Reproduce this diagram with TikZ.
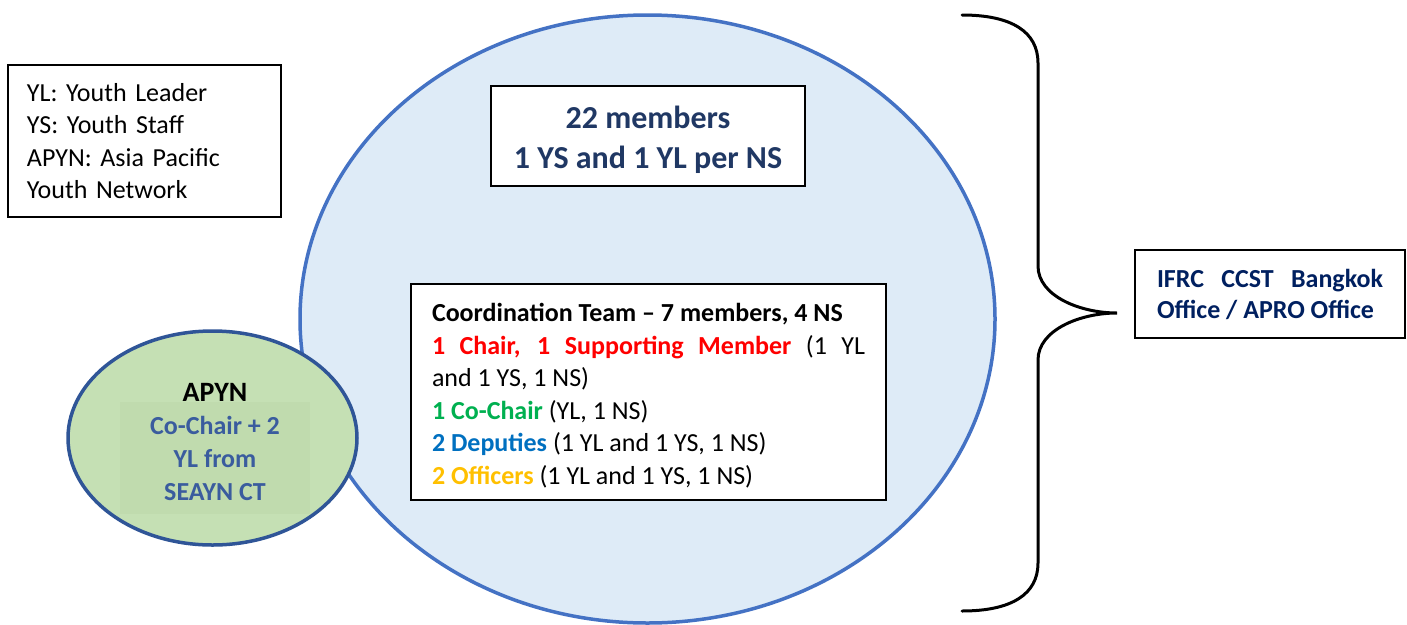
\documentclass[tikz,border=0pt]{standalone}
\usepackage{fontspec}
\setmainfont{Carlito}
\usetikzlibrary{shapes.geometric}
\definecolor{ringfill}{HTML}{DEEBF7}
\definecolor{ringline}{HTML}{4472C4}
\definecolor{apynfill}{HTML}{C5E0B4}
\definecolor{apynshade}{HTML}{C0DBAE}
\definecolor{apynline}{HTML}{2F5597}
\definecolor{apyntext}{HTML}{3A5C9E}
\definecolor{navy}{HTML}{203864}
\definecolor{officenavy}{HTML}{002060}
\definecolor{chairred}{HTML}{FF0000}
\definecolor{cochair}{HTML}{00B050}
\definecolor{deputy}{HTML}{0070C0}
\definecolor{officer}{HTML}{FFC000}

\begin{document}
\begin{tikzpicture}[x=1pt,y=-1pt,
            every node/.style={font=\fontsize{26}{32.5}\selectfont},
            box/.style={draw,line width=1.8pt,fill=white,inner sep=0pt},
            brace/.style={draw,line width=3pt,line cap=round}
            ]
            \useasboundingbox (0,0) rectangle (1407,624);
            % the network
            \node[ellipse,draw=ringline,fill=ringfill,line width=3.5pt,
                minimum width=695pt,minimum height=608pt,inner sep=0pt] (ring) at (647.5,319) {};
            \node[box,minimum width=314pt,minimum height=100pt,align=center,text=navy,
                font=\fontsize{32}{40}\selectfont\bfseries] (members) at (648,136)
                {\rule{0pt}{30pt}22 members\\1 YS and 1 YL per NS};
            \node[box,text width=433pt,inner xsep=21pt,minimum height=216pt,align=justify] (team) at (648.5,392)
                {\rule{0pt}{26pt}\textbf{Coordination Team -- 7 members, 4 NS}\\
                \textcolor{chairred}{\textbf{1 Chair, 1 Supporting Member}} (1 YL\linebreak and 1 YS, 1 NS)\\
                \textcolor{cochair}{\textbf{1 Co-Chair}} (YL, 1 NS)\\
                \textcolor{deputy}{\textbf{2 Deputies}} (1 YL and 1 YS, 1 NS)\\
                \textcolor{officer}{\textbf{2 Officers}} (1 YL and 1 YS, 1 NS)};
            % APYN
            \node[ellipse,draw=apynline,fill=apynfill,line width=3.5pt,
                minimum width=289pt,minimum height=214pt,inner sep=0pt] (apyn) at (212.5,438) {};
            \fill[apynshade] (120,402) rectangle (310,514);
            \node[align=center,font=\fontsize{26}{33}\selectfont\bfseries] (apyntxt) at (215,442)
                {{\fontsize{28}{33}\selectfont APYN}\\\textcolor{apyntext}{Co-Chair + 2}\\\textcolor{apyntext}{YL from}\\\textcolor{apyntext}{SEAYN CT}};
            % legend
            \node[box,text width=235pt,inner xsep=19pt,minimum height=152pt,align=left] (legend) at (144.5,141)
                {YL: Youth Leader\\YS: Youth Staff\\APYN: Asia Pacific\\Youth Network};
            % office
            \node[box,text width=226pt,inner xsep=22pt,minimum height=88pt,align=justify,text=officenavy,
                font=\fontsize{26}{31}\selectfont\bfseries] (office) at (1270,294)
                {IFRC CCST Bangkok Office / APRO Office};
            \coordinate (tip) at (1117,313);
            \draw[brace] (962,15) .. controls (1012,15) and (1038,32) .. (1038,63) -- (1038,266)
                .. controls (1038,296) and (1080,313) .. (tip)
                .. controls (1080,313) and (1038,330) .. (1038,360) -- (1038,563)
                .. controls (1038,594) and (1012,611) .. (962,611);
        \end{tikzpicture}
\end{document}
